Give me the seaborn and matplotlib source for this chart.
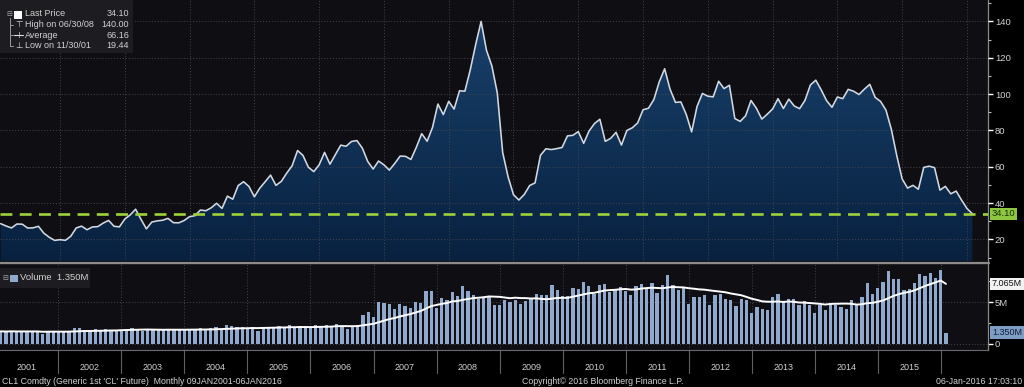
import numpy as np
import pandas as pd
import matplotlib
matplotlib.use("Agg")
import matplotlib.pyplot as plt
import matplotlib.transforms as mtrans
from matplotlib.colors import LinearSegmentedColormap
from matplotlib.patches import Rectangle
from matplotlib.lines import Line2D
import seaborn as sns

# ---------------- data ----------------
years = list(range(2001, 2016))
price = [
    28.66, 27.39, 26.29, 28.46, 28.37, 26.25, 26.35, 27.20, 23.43, 21.18, 19.44, 19.84,
    19.48, 21.74, 26.31, 27.29, 25.31, 26.86, 27.02, 28.98, 30.45, 27.22, 26.89, 31.20,
    33.51, 36.60, 31.04, 25.80, 29.56, 30.19, 30.54, 31.57, 29.20, 29.11, 30.41, 32.52,
    33.05, 36.16, 35.76, 37.38, 39.88, 37.05, 43.80, 42.12, 49.64, 51.76, 49.13, 43.45,
    48.20, 51.75, 55.40, 49.72, 51.97, 56.50, 60.57, 68.94, 66.24, 59.76, 57.32, 61.04,
    67.92, 61.41, 66.63, 71.88, 71.29, 73.93, 74.40, 70.26, 62.91, 58.73, 63.13, 61.05,
    58.14, 61.79, 65.87, 65.71, 64.01, 70.68, 78.21, 74.04, 81.66, 94.53, 88.71, 95.98,
    91.75, 101.84, 101.58, 113.46, 127.35, 140.00, 124.08, 115.46, 100.64, 67.81, 54.43, 44.60,
    41.68, 44.76, 49.66, 51.12, 66.31, 69.89, 69.45, 69.96, 70.61, 77.00, 77.28, 79.36,
    72.89, 79.66, 83.76, 86.15, 73.97, 75.63, 78.95, 71.92, 79.97, 81.43, 84.11, 91.38,
    92.19, 96.97, 106.72, 113.93, 102.70, 95.42, 95.70, 88.81, 79.20, 93.19, 100.36, 98.83,
    98.48, 107.07, 103.02, 104.87, 86.53, 84.96, 88.06, 96.47, 92.19, 86.24, 88.91, 91.82,
    97.49, 92.05, 97.23, 93.46, 91.97, 96.56, 105.03, 107.65, 102.33, 96.38, 92.72, 98.42,
    97.49, 102.59, 101.58, 99.74, 102.71, 105.37, 98.17, 95.96, 91.16, 80.54, 66.15, 53.27,
    48.24, 49.76, 47.60, 59.63, 60.30, 59.47, 47.12, 49.20, 45.09, 46.59, 41.65, 37.04,
    34.10,
]
volume_m = [
    1.50, 1.45, 1.55, 1.45, 1.50, 1.45, 1.50, 1.50, 1.15, 1.55, 1.50, 1.40,
    1.45, 1.55, 1.85, 1.95, 1.70, 1.60, 1.75, 1.60, 1.75, 1.70, 1.60, 1.65,
    1.75, 1.85, 1.70, 1.60, 1.70, 1.65, 1.75, 1.65, 1.75, 1.70, 1.65, 1.70,
    1.80, 1.75, 1.85, 1.80, 1.85, 2.00, 1.80, 2.20, 2.10, 2.05, 2.00, 1.85,
    2.00, 1.60, 1.90, 2.00, 2.05, 2.10, 2.00, 2.25, 2.05, 2.10, 2.15, 2.00,
    2.25, 2.10, 2.30, 2.15, 2.35,
    2.05, 1.84, 2.05, 2.30, 3.40, 3.80, 3.20, 5.00, 4.90, 4.75, 4.20, 4.80,
    4.55, 4.30, 5.00, 4.90, 6.35, 6.30, 4.30, 5.50, 5.20, 6.15, 5.70, 6.90,
    6.30, 5.90, 5.40, 5.50, 5.65, 4.60, 4.60, 5.20, 5.00, 5.25, 4.80, 5.10,
    5.50, 6.00, 5.80, 5.80, 7.05, 6.50, 5.70, 5.70, 6.70, 6.60, 7.40,
    6.90, 6.00, 7.00, 7.10, 6.20, 6.50, 6.80, 6.30, 5.90, 6.90, 7.20, 6.60,
    7.30, 6.10, 7.00, 8.20, 7.00, 6.50,
    6.80, 4.80, 5.55, 5.60, 5.80, 4.60, 5.90, 6.00, 5.40, 5.20, 4.50, 5.40,
    5.25, 3.70, 4.40, 4.20, 4.10, 5.55, 6.00, 5.00, 5.40, 5.40, 4.70, 5.15,
    4.60, 3.75, 4.60, 4.00, 4.80, 4.70, 4.40, 4.20, 5.20, 4.60, 5.60, 7.30,
    5.95, 6.70, 7.40, 8.70, 7.80, 7.75, 6.40, 6.60, 7.30, 8.40, 8.10, 8.45,
    7.90, 8.80, 1.35,
]
price_ticks = [20, 40, 60, 80, 100, 120, 140]
vol_ticks = [0, 5]
vol_tick_labels = ["0", "5M"]
last_price = 34.10
last_price_label = "34.10"
ma_last_label = "7.065M"
vol_last_label = "1.350M"
legend_rows = [("Last Price", "34.10"), ("High on 06/30/08", "140.00"),
               ("Average", "66.16"), ("Low on 11/30/01", "19.44")]
footer_left = "CL1 Comdty (Generic 1st 'CL' Future)  Monthly 09JAN2001-06JAN2016"
footer_mid = "Copyright\u00a9 2016 Bloomberg Finance L.P."
footer_right = "06-Jan-2016 17:03:10"
ma_window = 15

# ---------------- derived frame ----------------
df = pd.DataFrame({"idx": np.arange(len(price)), "price": price, "vol": volume_m})
df["ma"] = df["vol"].rolling(ma_window, min_periods=1).mean()
year_bounds = [12 * (k + 1) - 1 for k in range(len(years))]      # Dec of each year
year_centers = [b - 6 for b in year_bounds]
quarter_ticks = [b + q for b in [-1] + year_bounds for q in (3, 6, 9)]

# ---------------- style ----------------
sns.set_theme(style="dark")
plt.rcParams["font.family"] = ["Liberation Sans", "DejaVu Sans"]
W, H = 1024, 387
BG = "#0f0f13"
TXT = "#d2d2d2"
GRID = "#45454c"

fig = plt.figure(figsize=(W / 100, H / 100), dpi=100, facecolor="black")
ax1 = fig.add_axes([0, 1 - 261 / H, 988 / W, 261 / H])
ax2 = fig.add_axes([0, 1 - 350 / H, 988 / W, (350 - 264) / H])

XLIM = (-0.12, 182.9)
Y1 = (8.1, 151.8)
Y2 = (-0.73, 9.55)

for ax in (ax1, ax2):
    ax.set_facecolor(BG)
    for s in ax.spines.values():
        s.set_visible(False)
    ax.spines["right"].set_visible(True)
    ax.spines["right"].set_color("#8a8a8a")
    ax.spines["right"].set_linewidth(0.9)

# ---- price panel ----
poly = ax1.fill_between(df["idx"], df["price"], Y1[0], facecolor="none", edgecolor="none")
cmap = LinearSegmentedColormap.from_list("bbg", ["#08213f", "#1a436f"])
grad = np.linspace(0, 1, 256).reshape(-1, 1)
im = ax1.imshow(grad, aspect="auto", cmap=cmap, origin="lower",
                extent=[XLIM[0], XLIM[1], Y1[0], Y1[1]], zorder=1)
im.set_clip_path(poly.get_paths()[0], transform=ax1.transData)
sns.lineplot(data=df, x="idx", y="price", ax=ax1, color="#d3d9e2", linewidth=1.15,
             zorder=4, legend=False)
ax1.axhline(last_price, color="#9fd23a", linewidth=1.9, dashes=(4.5, 2.8), zorder=5)

ax1.set_xlim(*XLIM)
ax1.set_ylim(*Y1)
ax1.set_xticks(year_bounds)
ax1.set_xticklabels([])
ax1.tick_params(axis="x", length=0)
ax1.yaxis.tick_right()
ax1.set_yticks(price_ticks)
ax1.set_yticks([t - 10 for t in price_ticks] + [150], minor=True)
ax1.tick_params(axis="y", which="major", length=3.5, width=1.0, color="white",
                labelcolor=TXT, labelsize=6.8, pad=1.5, direction="out")
ax1.tick_params(axis="y", which="minor", length=2.2, width=0.8, color="#bbbbbb")
ax1.set_axisbelow(False)
ax1.grid(True, which="major", color=GRID, linewidth=0.7, linestyle=(0, (1, 2)))
for gl in ax1.get_xgridlines() + ax1.get_ygridlines():
    gl.set_zorder(2)
ax1.set_xlabel("")
ax1.set_ylabel("")

blend1 = mtrans.blended_transform_factory(ax1.transAxes, ax1.transData)
ax1.text(1.004, last_price, last_price_label, transform=blend1, ha="left", va="center",
         fontsize=6.8, color="#15300a",
         bbox=dict(boxstyle="square,pad=0.18", fc="#8dc63f", ec="none"))

# ---- volume panel ----
sns.barplot(data=df, x="idx", y="vol", ax=ax2, native_scale=True, color="#8fa8cc",
            saturation=1, width=0.62, errorbar=None, zorder=3,
            edgecolor="none", linewidth=0)
sns.lineplot(data=df, x="idx", y="ma", ax=ax2, color="white", linewidth=1.4,
             zorder=4, legend=False)
ax2.set_xlim(*XLIM)
ax2.set_ylim(*Y2)
ax2.yaxis.tick_right()
ax2.set_yticks(vol_ticks)
ax2.set_yticklabels(vol_tick_labels)
ax2.set_yticks([2.5, 7.5], minor=True)
ax2.tick_params(axis="y", which="major", length=3.5, width=1.0, color="white",
                labelcolor=TXT, labelsize=6.8, pad=1.5)
ax2.tick_params(axis="y", which="minor", length=2.2, width=0.8, color="#bbbbbb")
ax2.set_xticks(quarter_ticks)
ax2.set_xticklabels([])
ax2.tick_params(axis="x", which="major", length=3, width=0.8, color="#7a7a7a",
                direction="out")
ax2.set_axisbelow(True)
ax2.grid(False)
for b in year_bounds:
    ax2.axvline(b, color=GRID, linewidth=0.7, linestyle=(0, (1, 2)), zorder=1)
    ax2.axvline(b, ymin=-0.27, ymax=0, color="#5f5f66", linewidth=0.8, clip_on=False)
for v in vol_ticks:
    ax2.axhline(v, color=GRID, linewidth=0.7, linestyle=(0, (1, 2)), zorder=1)
ax2.spines["bottom"].set_visible(True)
ax2.spines["bottom"].set_color("#6a6a70")
ax2.spines["bottom"].set_linewidth(0.8)
ax2.set_xlabel("")
ax2.set_ylabel("")

bx = mtrans.blended_transform_factory(ax2.transData, ax2.transAxes)
for c, yr in zip(year_centers, years):
    ax2.text(c, -0.2, str(yr), transform=bx, ha="center", va="center",
             fontsize=6.5, color=TXT, clip_on=False)

blend2 = mtrans.blended_transform_factory(ax2.transAxes, ax2.transData)
ax2.text(1.004, df["ma"].iloc[-1], ma_last_label, transform=blend2, ha="left", va="center",
         fontsize=6.5, color="#111111",
         bbox=dict(boxstyle="square,pad=0.18", fc="#f2f2f2", ec="none"))
ax2.text(1.004, df["vol"].iloc[-1], vol_last_label, transform=blend2, ha="left", va="center",
         fontsize=6.5, color="#0d1f3a",
         bbox=dict(boxstyle="square,pad=0.18", fc="#7f9cc4", ec="none"))

# ---------------- figure-level decorations ----------------
def fx(x):
    return x / W

def fy(y):
    return 1 - y / H

# separator between panels
fig.add_artist(Line2D([0, fx(989)], [fy(262.5), fy(262.5)], color="#8c8c8c", linewidth=1.7))

# top-left legend box
fig.add_artist(Rectangle((0, fy(53)), fx(133), 53 / H, facecolor="#1c1c21",
                         edgecolor="none", zorder=6))
rows_y = [14, 24.5, 35, 45.5]
fig.add_artist(Rectangle((fx(14), fy(18.5)), fx(8), 8 / H, facecolor="white",
                         edgecolor="none", zorder=7))
fig.text(fx(9.5), fy(rows_y[0]), "\u229f", fontsize=5, color="#aaaaaa", ha="center",
         va="center", zorder=7, family=["DejaVu Sans"])
fig.add_artist(Line2D([fx(9.5), fx(9.5)], [fy(18), fy(rows_y[3])], color="#9a9a9a",
                      linewidth=0.7, zorder=7))
for ry in rows_y[1:]:
    fig.add_artist(Line2D([fx(9.5), fx(13)], [fy(ry), fy(ry)], color="#9a9a9a",
                          linewidth=0.7, zorder=7))
fig.text(fx(18.5), fy(rows_y[1]), "\u22a4", fontsize=6, color="#dddddd", ha="center",
         va="center", zorder=7, family=["DejaVu Sans"])
fig.add_artist(Line2D([fx(14), fx(23)], [fy(rows_y[2]), fy(rows_y[2])], color="#dddddd",
                      linewidth=0.8, zorder=7))
fig.text(fx(18.5), fy(rows_y[2]), "+", fontsize=6, color="#dddddd", ha="center",
         va="center", zorder=7, family=["DejaVu Sans"])
fig.text(fx(18.5), fy(rows_y[3]), "\u22a5", fontsize=6, color="#dddddd", ha="center",
         va="center", zorder=7, family=["DejaVu Sans"])
for (lab, val), ry in zip(legend_rows, rows_y):
    fig.text(fx(25), fy(ry), lab, fontsize=6.5, color=TXT, ha="left", va="center", zorder=7)
    fig.text(fx(129), fy(ry), val, fontsize=6.5, color=TXT, ha="right", va="center", zorder=7)

# volume legend box
fig.add_artist(Rectangle((0, fy(288)), fx(90), 20 / H, facecolor="#1c1c21",
                         edgecolor="none", zorder=6))
fig.text(fx(5), fy(278), "\u229f", fontsize=5, color="#aaaaaa", ha="center",
         va="center", zorder=7, family=["DejaVu Sans"])
fig.add_artist(Rectangle((fx(10), fy(282)), fx(7.5), 7.5 / H, facecolor="#8fa8cc",
                         edgecolor="none", zorder=7))
fig.text(fx(20), fy(278), "Volume  " + vol_last_label, fontsize=6.8, color=TXT,
         ha="left", va="center", zorder=7)

# footer
fig.text(fx(2), fy(381), footer_left, fontsize=6.3, color=TXT, ha="left", va="center")
fig.text(fx(603), fy(381), footer_mid, fontsize=6.3, color=TXT, ha="center", va="center")
fig.text(fx(1022), fy(381), footer_right, fontsize=6.3, color=TXT, ha="right", va="center")

fig.savefig("out.png", dpi=100, facecolor="black")
